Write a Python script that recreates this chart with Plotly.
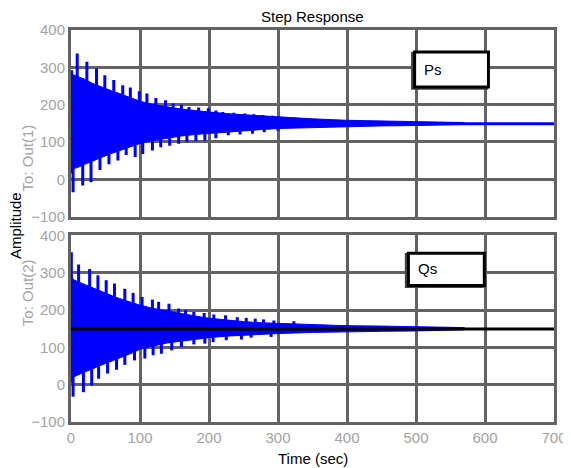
import plotly.graph_objects as go
from plotly.subplots import make_subplots

# envelope of the dense oscillation
env_t = [0, 3, 10, 20, 30, 40, 50, 60, 70, 80, 90, 100, 120, 140, 160, 180,
         200, 225, 250, 275, 300, 350, 400, 450, 500, 540, 570]
top_upper = [285, 280, 275, 268, 258, 250, 243, 236, 230, 223, 216, 209, 200,
             193, 188, 184, 180, 176, 173, 170, 167, 162, 158, 156, 155, 154, 152]
top_lower = [15, 28, 32, 40, 48, 56, 63, 70, 77, 84, 90, 96, 104, 111, 116,
             120, 123, 127, 130, 133, 136, 139, 141, 143, 144, 145, 147]
bot_upper = [300, 282, 276, 268, 260, 252, 245, 238, 231, 225, 219, 213, 204,
             197, 190, 184, 178, 173, 169, 166, 164, 161, 158, 157, 156, 155, 153]
bot_lower = [5, 20, 26, 34, 42, 50, 57, 64, 71, 78, 86, 95, 104, 112, 118,
             122, 126, 130, 133, 135, 137, 140, 142, 143, 144, 145, 147]

# individual peaks sticking out of the band
top_up_t = [1, 9, 23, 37, 49, 62, 75, 86, 99, 110, 123, 137, 148, 160, 171,
            185, 199, 210, 220, 236, 252, 265, 278, 292, 307]
top_up_v = [292, 337, 315, 297, 279, 266, 252, 246, 236, 230, 218, 212, 203,
            200, 194, 192, 190, 184, 180, 178, 176, 174, 172, 170, 167]
top_dn_t = [3, 17, 29, 42, 55, 68, 80, 93, 104, 118, 130, 143, 156, 168, 181,
            194, 210, 228, 245, 263, 280, 300]
top_dn_v = [-35, -17, -8, 25, 40, 50, 65, 60, 68, 77, 86, 90, 95, 99, 102,
            104, 110, 118, 120, 122, 126, 130]
bot_up_t = [0.5, 11, 27, 39, 51, 63, 78, 90, 103, 118, 127, 142, 156, 166,
            178, 193, 207, 224, 241, 254, 267, 279, 294, 323]
bot_up_v = [355, 322, 310, 293, 280, 271, 257, 246, 235, 228, 222, 217, 204,
            200, 195, 192, 188, 186, 181, 179, 177, 175, 172, 170]
bot_dn_t = [3, 18, 30, 40, 53, 66, 78, 92, 107, 119, 131, 146, 160, 178, 194,
            206, 225, 247, 261, 290]
bot_dn_v = [-32, -20, -2, 16, 30, 40, 53, 65, 70, 79, 83, 92, 101, 108, 110,
            114, 119, 121, 126, 128]

steady_value = 149
t_end = 700

BLUE = "#0000ff"
GRID = "#636363"
TICK = "#a3a3a3"
FONT = "Liberation Sans, Arial, sans-serif"
FS = 15


def stems(ts, vs, base):
    xs, ys = [], []
    for t, v in zip(ts, vs):
        xs += [t, t, None]
        ys += [base, v, None]
    return xs, ys


fig = make_subplots(rows=2, cols=1, shared_xaxes=False, vertical_spacing=0.048)

panels = [
    (1, top_upper, top_lower, top_up_t, top_up_v, top_dn_t, top_dn_v),
    (2, bot_upper, bot_lower, bot_up_t, bot_up_v, bot_dn_t, bot_dn_v),
]
for row, up, lo, ut, uv, dt, dv in panels:
    if row == 1:
        fig.add_trace(go.Scatter(x=[0, t_end], y=[steady_value, steady_value],
                                 mode="lines", line=dict(color=BLUE, width=3),
                                 showlegend=False), row=row, col=1)
    fig.add_trace(go.Scatter(x=env_t + env_t[::-1], y=up + lo[::-1],
                             fill="toself", fillcolor=BLUE, mode="lines",
                             line=dict(color=BLUE, width=1), showlegend=False),
                  row=row, col=1)
    for ts, vs in ((ut, uv), (dt, dv)):
        xs, ys = stems(ts, vs, steady_value)
        fig.add_trace(go.Scatter(x=xs, y=ys, mode="lines",
                                 line=dict(color=BLUE, width=3), showlegend=False),
                      row=row, col=1)
    if row == 2:
        fig.add_trace(go.Scatter(x=[0, t_end], y=[steady_value, steady_value],
                                 mode="lines", line=dict(color="black", width=3),
                                 showlegend=False), row=row, col=1)

axis_style = dict(showline=True, mirror=True, linecolor=GRID, linewidth=3,
                  showgrid=True, gridcolor=GRID, gridwidth=3, zeroline=False,
                  automargin=False, ticks="",
                  tickfont=dict(color=TICK, size=FS, family=FONT))
fig.update_xaxes(range=[0, t_end], dtick=100, **axis_style)
fig.update_yaxes(range=[-100, 400], dtick=100, ticklabelstandoff=0, **axis_style)
fig.update_xaxes(showticklabels=False, row=1, col=1)
# page body adds an 8px offset, so the figure is 8px smaller on each axis
fig.update_layout(
    width=563, height=460,
    margin=dict(l=63, r=17, t=22, b=46),
    plot_bgcolor="white", paper_bgcolor="white",
    font=dict(family=FONT, size=FS, color="black"),
    showlegend=False,
)

# label boxes (with a small shadow)
fig.add_shape(type="rect", x0=495, x1=602, y0=244, y1=338, xref="x", yref="y",
              line=dict(color="#444444", width=3), fillcolor="white")
fig.add_shape(type="rect", x0=498, x1=605, y0=247, y1=341, xref="x", yref="y",
              line=dict(color="black", width=3), fillcolor="white")
fig.add_shape(type="rect", x0=486, x1=596, y0=263, y1=349, xref="x2", yref="y2",
              line=dict(color="#444444", width=3), fillcolor="white")
fig.add_shape(type="rect", x0=489, x1=599, y0=266, y1=352, xref="x2", yref="y2",
              line=dict(color="black", width=3), fillcolor="white")
fig.add_annotation(x=508, y=294, xref="x", yref="y", text="Ps", showarrow=False,
                   xanchor="left", font=dict(size=FS))
fig.add_annotation(x=500, y=310, xref="x2", yref="y2", text="Qs", showarrow=False,
                   xanchor="left", font=dict(size=FS))

# titles
fig.add_annotation(x=0.5, y=1, xref="paper", yref="paper", yshift=3,
                   text="Step Response", showarrow=False, yanchor="bottom",
                   font=dict(size=FS))
fig.add_annotation(x=0.5, y=0, xref="paper", yref="paper", yshift=-26,
                   text="Time (sec)", showarrow=False, yanchor="top",
                   font=dict(size=FS))
fig.add_annotation(x=0, y=0.5, xref="paper", yref="paper", xshift=-56,
                   xanchor="center", text="Amplitude", showarrow=False,
                   textangle=-90, font=dict(size=FS))
fig.add_annotation(x=0, y=0.763, xref="paper", yref="paper", xshift=-44,
                   xanchor="center", text="To: Out(1)", showarrow=False,
                   textangle=-90, font=dict(size=FS, color=TICK))
fig.add_annotation(x=0, y=0.238, xref="paper", yref="paper", xshift=-44,
                   xanchor="center", text="To: Out(2)", showarrow=False,
                   textangle=-90, font=dict(size=FS, color=TICK))

fig.write_html("out.html")
